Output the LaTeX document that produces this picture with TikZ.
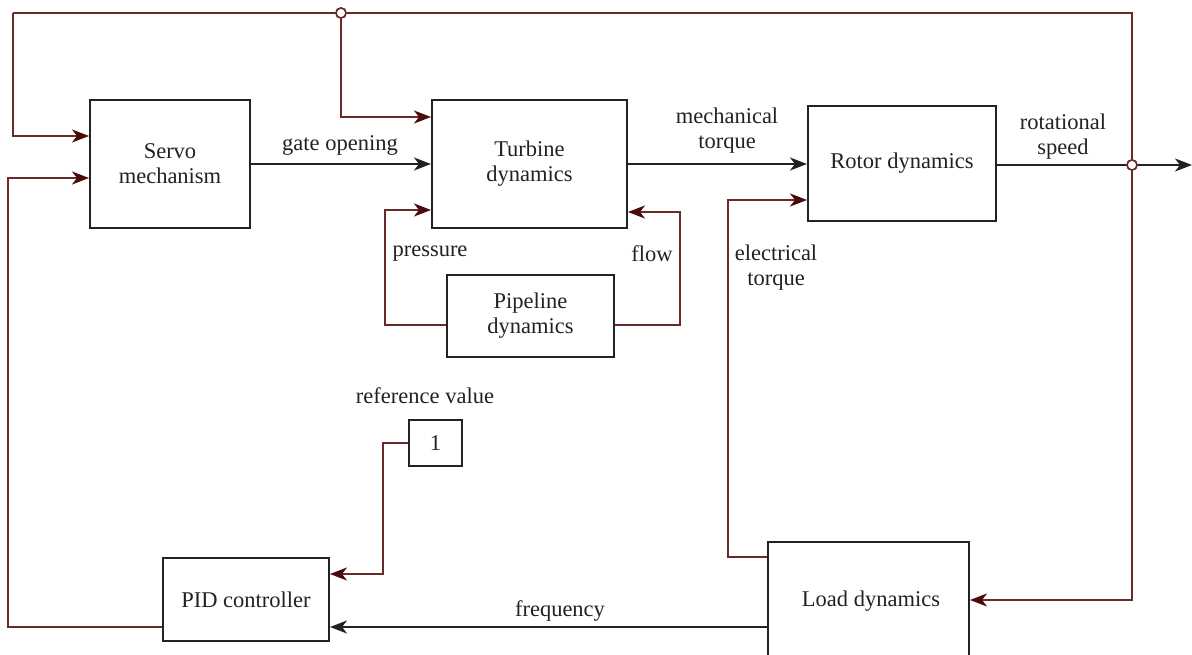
\documentclass[tikz,border=0pt]{standalone}
\usepackage{fontspec}
\setmainfont{Liberation Serif}
\usetikzlibrary{arrows.meta,calc}
\definecolor{fb}{HTML}{6A2A2A}
\definecolor{fbhead}{HTML}{4A0A0A}
\definecolor{ink}{HTML}{222222}
\begin{document}
\begin{tikzpicture}[x=1pt,y=-1pt,
  every node/.style={font=\fontsize{22.5}{25}\selectfont, text=ink},
  blk/.style={draw=ink, line width=2pt, inner sep=0pt, align=center, fill=white},
  lbl/.style={align=center, inner sep=0pt},
  sig/.style={draw=ink, line width=2pt, -{Stealth[length=17pt,width=13pt,inset=5pt]}},
  fbk/.style={draw=fb, line width=2pt, -{Stealth[length=17pt,width=13pt,inset=5pt,fill=fbhead,color=fbhead]}},
  fbn/.style={draw=fb, line width=2pt},
  junc/.style={circle, draw=fb, fill=white, line width=1.6pt, minimum size=10pt, inner sep=0pt}
]
\useasboundingbox (0,0) rectangle (1192,655);
\clip (0,0) rectangle (1192,655);
\fill[white] (0,0) rectangle (1192,655);

% blocks
\node[blk, minimum width=160pt, minimum height=128pt] (servo) at (170,164) {Servo\\mechanism};
\node[blk, minimum width=195pt, minimum height=128pt] (turb) at (529.5,164) {Turbine\\dynamics};
\node[blk, minimum width=188pt, minimum height=115pt] (rotor) at (902,163.5) {Rotor dynamics};
\node[blk, minimum width=167pt, minimum height=82pt] (pipe) at (530.5,316) {Pipeline\\dynamics};
\node[blk, minimum width=53pt, minimum height=46pt] (ref) at (435.5,443) {1};
\node[blk, minimum width=166pt, minimum height=83pt] (pid) at (246,599.5) {PID controller};
\node[blk, minimum width=201pt, minimum height=123pt] (load) at (868.5,603.5) {};
\node[lbl] at (871,601) {Load dynamics};

% coordinates
\coordinate (tl) at (13,13);
\coordinate (tr) at (1132,13);
\node[junc] (j1) at (341,13) {};
\node[junc] (j2) at (1132,165) {};
\coordinate (out) at (1192,165);

% main forward path
\draw[sig] (servo.east) -- (turb.west);
\draw[sig] (turb.east) -- (rotor.west |- turb.east);
\draw[fbn, draw=ink] (rotor.east |- j2) -- (j2);
\draw[sig] (j2) -- (out);

% top feedback
\draw[fbn] (j2) -- (tr) -- (j1);
\draw[fbn] (j1) -- (tl);
\draw[fbk] (tl) -- (tl |- 0,136) -- (servo.west |- 0,136);
\draw[fbk] (j1) -- (j1 |- 0,117) -- (turb.west |- 0,117);

% to load
\draw[fbk] (j2) -- (j2 |- 0,600) -- (load.east |- 0,600);

% pipeline loop
\draw[fbk] (pipe.west |- 0,325) -- (385,325) -- (385,210) -- (turb.west |- 0,210);
\draw[fbk] (pipe.east |- 0,325) -- (680,325) -- (680,212) -- (turb.east |- 0,212);

% electrical torque
\draw[fbk] (load.west |- 0,557) -- (728,557) -- (728,200) -- (rotor.west |- 0,200);

% frequency
\draw[sig] (load.west |- 0,627) -- (pid.east |- 0,627);

% reference
\draw[fbk] (ref.west) -- (383,443) -- (383,574) -- (pid.east |- 0,574);

% PID to servo
\draw[fbk] (pid.west |- 0,627) -- (8,627) -- (8,178) -- (servo.west |- 0,178);

% junction circles on top
\node[junc] at (j1) {};
\node[junc] at (j2) {};

% labels
\node[lbl] at (340,145) {gate opening};
\node[lbl] at (727,131) {mechanical\\torque};
\node[lbl] at (1063,137) {rotational\\speed};
\node[lbl] at (430,254) {pressure};
\node[lbl] at (652,254) {flow};
\node[lbl] at (776,268) {electrical\\torque};
\node[lbl] at (425,396) {reference value};
\node[lbl] at (560,611) {frequency};
\end{tikzpicture}
\end{document}
